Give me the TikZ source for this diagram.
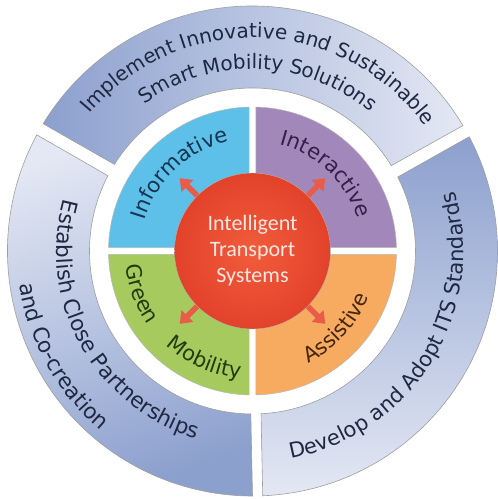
\documentclass[tikz,border=0pt]{standalone}
\usepackage{fontspec}
\usepackage{tikz}
\usetikzlibrary{arrows.meta,decorations.text,positioning}
\newfontfamily\ringfont{DejaVu Sans}
\newfontfamily\hubfamily{Carlito}
\newcommand\hubfont{\hubfamily\fontsize{22pt}{26pt}\selectfont}
\definecolor{segdark}{RGB}{140,160,206}
\definecolor{seglight}{RGB}{228,232,244}
\definecolor{ringink}{RGB}{30,40,66}
\definecolor{infoblue}{RGB}{92,192,232}
\definecolor{interpurple}{RGB}{162,136,186}
\definecolor{greengreen}{RGB}{166,202,94}
\definecolor{assistorange}{RGB}{247,171,96}
\definecolor{hubin}{RGB}{242,92,60}
\definecolor{hubout}{RGB}{226,66,42}
\definecolor{hubink}{RGB}{248,232,226}
\definecolor{spokered}{RGB}{234,92,74}

\begin{document}
\begin{tikzpicture}[x=1pt, y=1pt,
    seg/.style={draw=gray!75, line width=0.6pt},
    quad/.style={draw=gray!55, line width=0.5pt},
    ringtext/.style={decorate, decoration={text along path, text align=center, text color=ringink}},
    quadtext/.style={decorate, decoration={text along path, text align=center}},
    hub/.style={circle, draw=gray!60, minimum size=156pt, inner sep=0pt, align=center,
      inner color=hubin, outer color=hubout, font=\hubfont, text=hubink},
    spoke/.style={-{Triangle[length=11pt,width=16pt]}, line width=5.5pt, draw=spokered}]

  \useasboundingbox (-252.5,-248) rectangle (245.5,251);
  \fill[white] (-252.5,-248) rectangle (245.5,251);

  % outer ring
  \shadedraw[seg, left color=segdark, right color=seglight]
    (30.8:245) arc[start angle=30.8, end angle=148.7, radius=245]
    -- (147.9:163) arc[start angle=147.9, end angle=31.6, radius=163] -- cycle;
  \shadedraw[seg, top color=segdark, bottom color=seglight]
    (-87.6:245) arc[start angle=-87.6, end angle=27.8, radius=245]
    -- (27.0:163) arc[start angle=27.0, end angle=-87.0, radius=163] -- cycle;
  \shadedraw[seg, top color=seglight, bottom color=segdark, shading angle=20]
    (151.7:245) arc[start angle=151.7, end angle=270.0, radius=245]
    -- (269.4:163) arc[start angle=269.4, end angle=152.5, radius=163] -- cycle;

  \path[ringtext, decoration={text=|\ringfont\fontsize{20pt}{24pt}\selectfont|Implement Innovative and Sustainable}]
    (157.9:213) arc[start angle=157.9, end angle=17.9, radius=213];
  \path[ringtext, decoration={text=|\ringfont\fontsize{20pt}{24pt}\selectfont|Smart Mobility Solutions}]
    (148:182) arc[start angle=148, end angle=28, radius=182];
  \path[ringtext, decoration={text=|\ringfont\fontsize{21pt}{24pt}\selectfont|Develop and Adopt ITS Standards}]
    (-101.5:211) arc[start angle=-101.5, end angle=38.5, radius=211];
  \path[ringtext, decoration={text=|\ringfont\fontsize{21.5pt}{24pt}\selectfont|Establish Close Partnerships}]
    (144:196) arc[start angle=144, end angle=274, radius=196];
  \path[ringtext, decoration={text=|\ringfont\fontsize{21.5pt}{24pt}\selectfont|and Co-creation}]
    (164:235) arc[start angle=164, end angle=254, radius=235];

  % inner quadrants
  \filldraw[quad, fill=infoblue] (-3.5,3.5) -- (91.39:144)
    arc[start angle=91.39, end angle=178.61, radius=144] -- cycle;
  \filldraw[quad, fill=interpurple] (3.5,3.5) -- (1.39:144)
    arc[start angle=1.39, end angle=88.61, radius=144] -- cycle;
  \filldraw[quad, fill=greengreen] (-3.5,-3.5) -- (181.39:144)
    arc[start angle=181.39, end angle=268.61, radius=144] -- cycle;
  \filldraw[quad, fill=assistorange] (3.5,-3.5) -- (271.39:144)
    arc[start angle=271.39, end angle=358.61, radius=144] -- cycle;

  \path[quadtext, decoration={text color={rgb,255:red,24;green,50;blue,82},
      text=|\ringfont\fontsize{21pt}{24pt}\selectfont|Informative}]
    (193:112) arc[start angle=193, end angle=73, radius=112];
  \path[quadtext, decoration={text color={rgb,255:red,52;green,30;blue,74},
      text=|\ringfont\fontsize{21pt}{24pt}\selectfont|Interactive}]
    (106.4:110) arc[start angle=106.4, end angle=-13.6, radius=110];
  \path[quadtext, decoration={text color={rgb,255:red,36;green,58;blue,14},
      text=|\ringfont\fontsize{21pt}{24pt}\selectfont|Green}]
    (161:128) arc[start angle=161, end angle=241, radius=128];
  \path[quadtext, decoration={text color={rgb,255:red,36;green,58;blue,14},
      text=|\ringfont\fontsize{21pt}{24pt}\selectfont|Mobility}]
    (206:128) arc[start angle=206, end angle=286, radius=128];
  \path[quadtext, decoration={text color={rgb,255:red,70;green,38;blue,14},
      text=|\ringfont\fontsize{21pt}{24pt}\selectfont|Assistive}]
    (-92.5:125) arc[start angle=-92.5, end angle=7.5, radius=125];

  % hub and spokes
  \node[hub] (its) at (0,0) {Intelligent\\Transport\\Systems};
  \coordinate (tipNW) at (135:103);
  \coordinate (tipNE) at (45:103);
  \coordinate (tipSW) at (225:103);
  \coordinate (tipSE) at (-45:103);
  \draw[spoke] (its.135) -- (tipNW);
  \draw[spoke] (its.45) -- (tipNE);
  \draw[spoke] (its.225) -- (tipSW);
  \draw[spoke] (its.-45) -- (tipSE);

\end{tikzpicture}
\end{document}
